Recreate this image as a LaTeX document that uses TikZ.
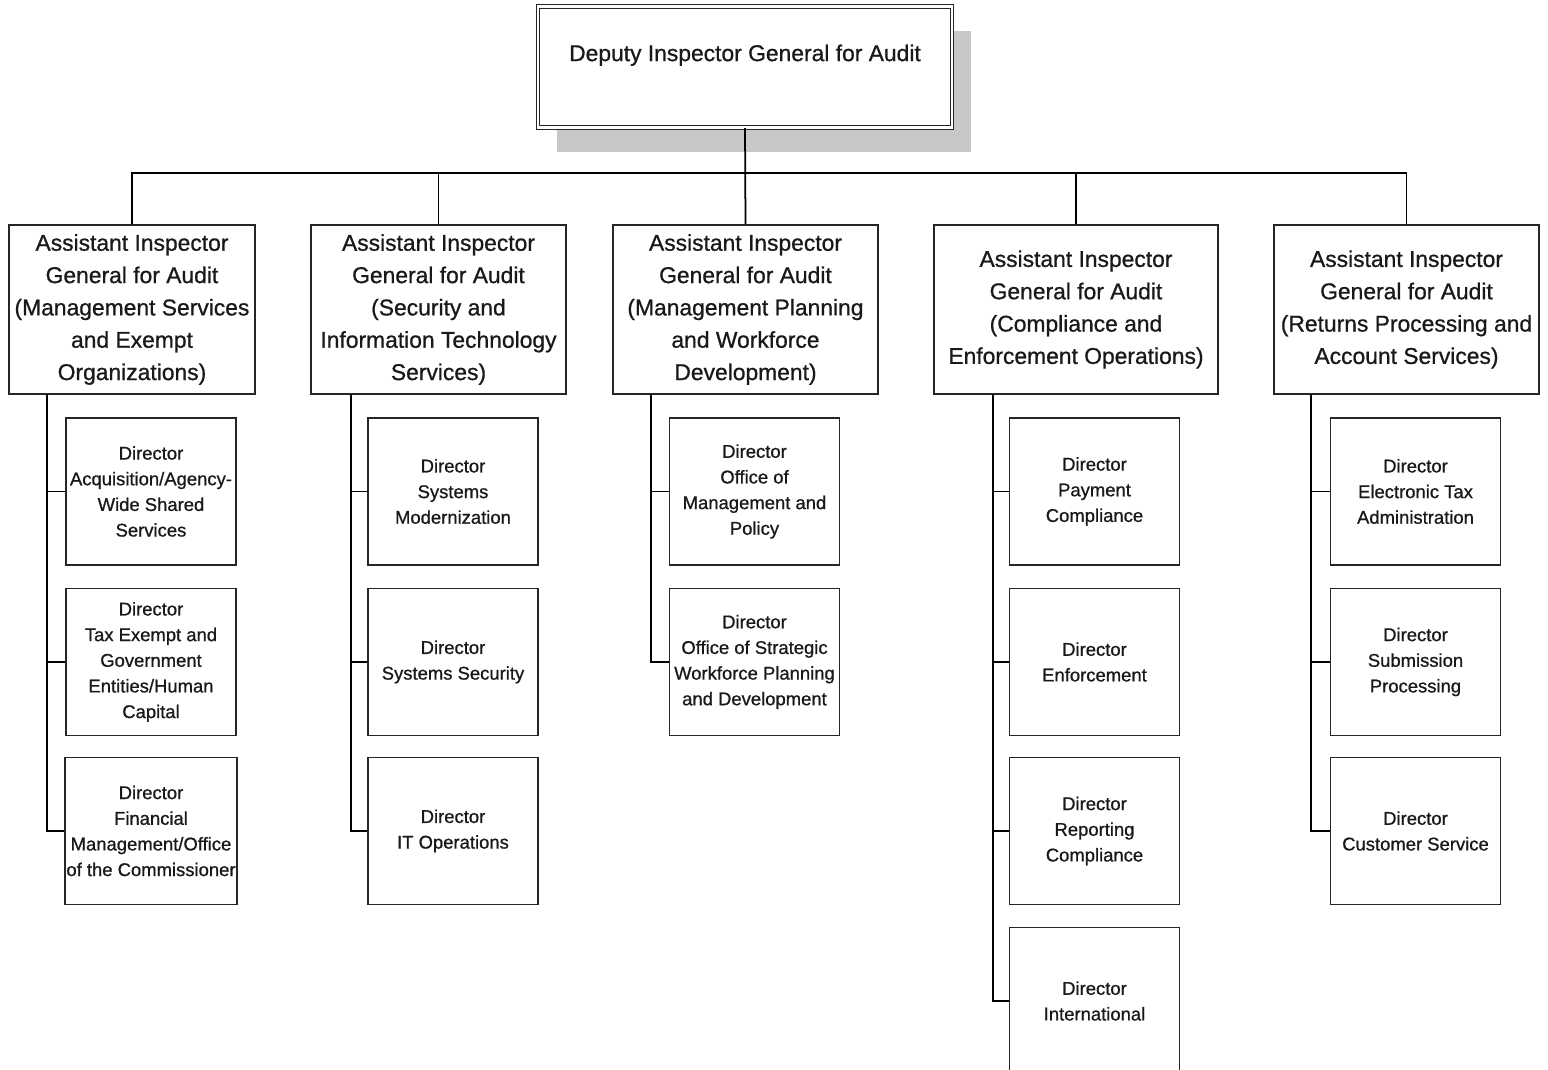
\documentclass[tikz,border=0pt]{standalone}
\usepackage{fontspec}
\setmainfont{Liberation Sans}
\newfontfamily\orgfont[FakeBold=0.8]{Liberation Sans}
\usetikzlibrary{positioning,shadows}
\tikzset{
	aigbox/.style={draw=black!85, line width=1pt, fill=white, align=center, inner sep=1pt,
		minimum height=3.38cm, font=\orgfont\fontsize{13}{18.4}\selectfont, text=black!90},
	dirbox/.style={draw=black!85, line width=1pt, fill=white, align=center, inner sep=1pt,
		minimum width=3.40cm, minimum height=2.94cm, font=\orgfont\fontsize{10.5}{14.6}\selectfont, text=black!90},
	link/.style={draw=black, line width=1pt}
}

\begin{document}
\begin{tikzpicture}[x=0.02cm, y=-0.02cm]
	\useasboundingbox (0,0) rectangle (1548,1070);
	\clip (0,0) rectangle (1548,1070);
	% top box
	\node[draw=black!85, line width=0.7pt, double, double distance=1.3pt, fill=white,
		minimum width=8.28cm, inner ysep=0pt, text height=1.09cm, text depth=1.33cm,
		font=\orgfont\fontsize{13}{16}\selectfont, text=black!90,
		drop shadow={shadow xshift=0.38cm, shadow yshift=-0.48cm, fill=black!22, opacity=1},
		anchor=north] (dig) at (745,6) {Deputy Inspector General for Audit};
	
	% assistant inspectors general
	\node[aigbox, minimum width=4.92cm] (aig1) at (132,309.5) {Assistant Inspector\\General for Audit\\(Management Services\\and Exempt\\Organizations)};
	\node[aigbox, minimum width=5.10cm] (aig2) at (438.5,309.5) {Assistant Inspector\\General for Audit\\(Security and\\Information Technology\\Services)};
	\node[aigbox, minimum width=5.30cm] (aig3) at (745.5,309.5) {Assistant Inspector\\General for Audit\\(Management Planning\\and Workforce\\Development)};
	\node[aigbox, minimum width=5.68cm] (aig4) at (1076,309.5) {Assistant Inspector\\General for Audit\\(Compliance and\\Enforcement Operations)};
	\node[aigbox, minimum width=5.30cm] (aig5) at (1406.5,309.5) {Assistant Inspector\\General for Audit\\(Returns Processing and\\Account Services)};
	
	% directors
	\node[dirbox] (d11) at (151,491.5) {Director\\Acquisition/Agency-\\Wide Shared\\Services};
	\node[dirbox] (d12) at (151,662) {Director\\Tax Exempt and\\Government\\Entities/Human\\Capital};
	\node[dirbox] (d13) at (151,831) {Director\\Financial\\Management/Office\\of the Commissioner};
	
	\node[dirbox] (d21) at (453,491.5) {Director\\Systems\\Modernization};
	\node[dirbox] (d22) at (453,662) {Director\\Systems Security};
	\node[dirbox] (d23) at (453,831) {Director\\IT Operations};
	
	\node[dirbox] (d31) at (754.5,491.5) {Director\\Office of\\Management and\\Policy};
	\node[dirbox] (d32) at (754.5,662) {Director\\Office of Strategic\\Workforce Planning\\and Development};
	
	\node[dirbox] (d41) at (1094.5,491.5) {Director\\Payment\\Compliance};
	\node[dirbox] (d42) at (1094.5,662) {Director\\Enforcement};
	\node[dirbox] (d43) at (1094.5,831) {Director\\Reporting\\Compliance};
	\node[dirbox] (d44) at (1094.5,1001) {Director\\International};
	
	\node[dirbox] (d51) at (1415.5,491.5) {Director\\Electronic Tax\\Administration};
	\node[dirbox] (d52) at (1415.5,662) {Director\\Submission\\Processing};
	\node[dirbox] (d53) at (1415.5,831) {Director\\Customer Service};
	
	% bus under the top box
	\coordinate (bus) at (0,173);
	\draw[link] (dig.south) -- (aig3.north);
	\draw[link] (aig1.north) |- (aig5.north |- bus) -- (aig5.north);
	\foreach \a in {aig2,aig4}
		\draw[link] (\a.north) -- (\a.north |- bus);
	
	% spines down to the directors
	\coordinate (s1) at (47,394);
	\coordinate (s2) at (351,394);
	\coordinate (s3) at (651,394);
	\coordinate (s4) at (993,394);
	\coordinate (s5) at (1311,394);
	\draw[link] (s1) |- (d13.west);
	\draw[link] (s2) |- (d23.west);
	\draw[link] (s3) |- (d32.west);
	\draw[link] (s4) |- (d44.west);
	\draw[link] (s5) |- (d53.west);
	\foreach \d/\s in {d11/s1,d12/s1,d21/s2,d22/s2,d31/s3,d41/s4,d42/s4,d43/s4,d51/s5,d52/s5}
		\draw[link] (\d.west) -- (\d.west -| \s);
\end{tikzpicture}
\end{document}
